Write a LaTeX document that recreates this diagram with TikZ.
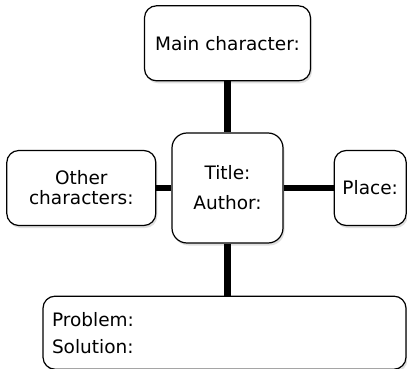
\documentclass[tikz,border=0pt]{standalone}
\usepackage{fontspec}
\setmainfont{DejaVu Sans}
\usetikzlibrary{positioning, shadows}

\begin{document}
\begin{tikzpicture}[x=1pt, y=1pt, node distance=15pt,
  box/.style={draw, line width=1.2pt, rounded corners=12pt, fill=white, align=center,
    font=\fontsize{18.5}{20}\selectfont,
    drop shadow={shadow xshift=1.5pt, shadow yshift=-2.5pt, opacity=0.25}},
  link/.style={line width=6.5pt}]
\useasboundingbox (0,0) rectangle (407,-369);
% centre of the web
\node[box, minimum width=111pt, minimum height=110pt, rounded corners=15pt] (title) at (227.5,-188) {Title:\\[10pt]Author:};
\node[box, minimum width=166pt, minimum height=75pt, above=51pt of title] (main) {Main character:};
\node[box, minimum width=149pt, minimum height=75pt, left=15pt of title] (other) {Other\\characters:};
\node[box, minimum width=72pt, minimum height=75pt, right=50pt of title] (place) {Place:};
\node[box, minimum height=73pt, text width=345pt, inner xsep=9pt, align=left,
  below=52pt of title, xshift=-3pt] (problem) {Problem:\\[7pt]Solution:};
% links
\draw[link] (main) -- (title);
\draw[link] (other) -- (title);
\draw[link] (title) -- (place);
\draw[link] (title.south) -- (title.south |- problem.north);
\end{tikzpicture}
\end{document}
